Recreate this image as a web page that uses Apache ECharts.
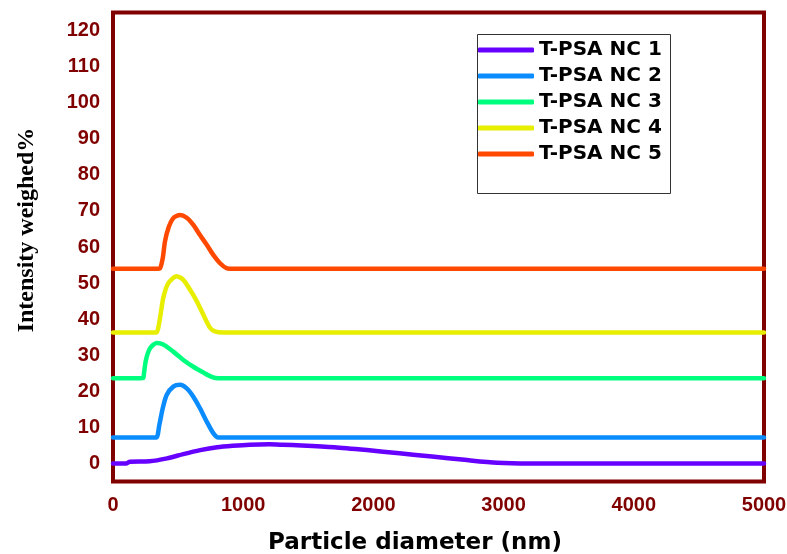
<!DOCTYPE html>
<html>
<head>
<meta charset="utf-8">
<script src="https://cdn.jsdelivr.net/npm/echarts@6/dist/echarts.min.js"></script>
<style>html,body{margin:0;padding:0;background:#fff;}#c{width:787px;height:554px;}</style>
</head>
<body>
<div id="c"></div>
<script>
var seriesNames = ['T-PSA NC 1','T-PSA NC 2','T-PSA NC 3','T-PSA NC 4','T-PSA NC 5'];
var nc1X = [0,100,130,280,415,540,670,800,920,1050,1200,1300,1450,1700,1950,2200,2450,2700,2950,3200,5000];
var nc1Y = [0,0,0.5,0.6,1.4,2.6,3.7,4.5,4.9,5.2,5.3,5.2,5.0,4.5,3.7,2.8,1.9,1.0,0.2,0,0];
var nc2X = [0,310,335,356,382,412,463,515,566,617,668,720,770,809,830,5000];
var nc2Y = [7.2,7.2,7.2,10.7,15.3,19.0,21.3,21.8,20.8,18.5,15.3,11.6,8.4,7.2,7.2,7.2];
var nc3X = [0,210,233,238,253,284,335,386,463,540,617,694,758,809,830,5000];
var nc3Y = [23.6,23.6,23.7,25.0,28.7,31.9,33.4,33.0,31.0,28.7,26.8,25.2,24.0,23.6,23.6,23.6];
var nc4X = [0,315,335,361,386,425,489,540,591,643,694,745,783,847,5000];
var nc4Y = [36.3,36.3,36.3,40.3,45.9,50.0,51.9,50.9,48.2,45.0,41.2,37.6,36.6,36.3,36.3];
var nc5X = [0,340,361,382,399,425,463,515,566,617,668,720,770,822,873,900,5000];
var nc5Y = [54.0,54.0,54.1,56.9,61.5,65.2,68.0,68.9,68.1,66.1,63.3,60.6,57.8,55.5,54.1,54.0,54.0];
var xTicks = [0,1000,2000,3000,4000,5000];
var yTicks = [0,10,20,30,40,50,60,70,80,90,100,110,120];

var colors = ['#6600ff','#0a8cff','#00ff7f','#e8ee00','#ff4800'];
var xs = [nc1X,nc2X,nc3X,nc4X,nc5X];
var ys = [nc1Y,nc2Y,nc3Y,nc4Y,nc5Y];

function pairs(x,y){ return x.map(function(v,i){ return [v,y[i]]; }); }

var chart = echarts.init(document.getElementById('c'), null, {renderer:'canvas'});
var series = seriesNames.map(function(n,i){
  return {
    name:n, type:'line', data:pairs(xs[i],ys[i]), showSymbol:false, symbol:'none',
    smooth:0.25, color:colors[i],
    lineStyle:{width:4.5,color:colors[i],cap:'round',join:'round'},
    z:3+i
  };
});
var axisFont = 'Liberation Sans, Arial';
var legendFont = 'DejaVu Sans';
chart.setOption({
  animation:false,
  backgroundColor:'#fff',
  grid:{left:113,right:23,top:12.5,bottom:72.5,show:true,borderColor:'#800000',borderWidth:4,backgroundColor:'transparent',
    containLabel:false,outerBoundsMode:'none'},
  xAxis:{type:'value',min:xTicks[0],max:xTicks[xTicks.length-1],interval:1000,
    axisLine:{show:false},axisTick:{show:false},splitLine:{show:false},
    axisLabel:{color:'#800000',fontWeight:'bold',fontSize:20,fontFamily:axisFont,margin:14,
      formatter:function(v){ return String(v); }}},
  yAxis:{type:'value',min:-5,max:125,interval:5,
    axisLine:{show:false},axisTick:{show:false},splitLine:{show:false},
    axisLabel:{color:'#800000',fontWeight:'bold',fontSize:20,fontFamily:axisFont,margin:13,
      formatter:function(v){ return yTicks.indexOf(v)>=0 ? String(v) : ''; }}},
  legend:{orient:'vertical',left:478,top:40,padding:0,itemWidth:56,itemHeight:5,itemGap:6,icon:'roundRect',
    data:seriesNames,
    textStyle:{color:'#000',fontWeight:'bold',fontSize:20,fontFamily:legendFont}},
  graphic:[
    {type:'rect',left:477,top:34,shape:{width:193,height:159},style:{fill:'transparent',stroke:'#333',lineWidth:1},z:1},
    {type:'text',x:415,y:543,style:{text:'Particle diameter (nm)',font:'bold 23px "DejaVu Sans"',fill:'#000',textAlign:'center',textVerticalAlign:'middle'}},
    {type:'text',x:27,y:230,rotation:Math.PI/2,style:{text:'Intensity weighed%',font:'bold 24px "Liberation Serif"',fill:'#000',textAlign:'center',textVerticalAlign:'middle'}}
  ],
  series:series
});
</script>
</body>
</html>
